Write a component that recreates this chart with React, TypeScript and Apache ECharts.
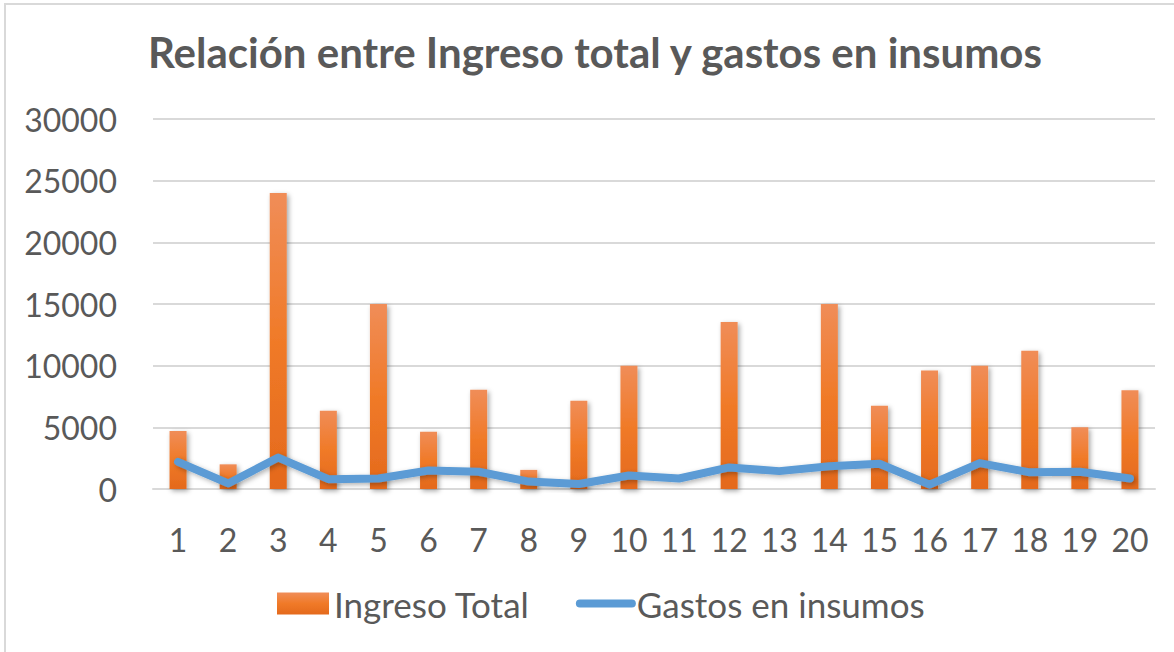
import React, { useEffect, useRef } from "react";
import * as echarts from "echarts";

const categories = ["1","2","3","4","5","6","7","8","9","10","11","12","13","14","15","16","17","18","19","20"];
const ingresoTotal = [4700, 2000, 24000, 6350, 15000, 4650, 8050, 1550, 7150, 10000, 0, 13550, 0, 15000, 6750, 9600, 10000, 11200, 5000, 8000];
const gastosInsumos = [2200, 450, 2550, 800, 850, 1500, 1400, 600, 400, 1100, 850, 1750, 1450, 1850, 2050, 350, 2100, 1350, 1400, 850];
const titleText = "Relación entre Ingreso total y gastos en insumos";
const seriesNames = ["Ingreso Total", "Gastos en insumos"];

export default function App() {
  const ref = useRef<HTMLDivElement>(null);
  useEffect(() => {
    if (!ref.current) return;
    const chart = echarts.init(ref.current, undefined, { renderer: "svg" });
    const font = "Lato, 'Open Sans', sans-serif";
    const textColor = "#595959";
    chart.setOption({
      animation: false,
      backgroundColor: "#ffffff",
      graphic: {
        elements: [
          {
            type: "polyline",
            z: 100,
            shape: { points: [[5, 652], [5, 4], [1174, 4]] },
            style: { stroke: "#d9d9d9", lineWidth: 2, fill: "none" },
            silent: true,
          },
        ],
      },
      title: {
        text: titleText,
        left: 143,
        top: 26,
        textStyle: { fontFamily: font, fontSize: 42, fontWeight: "bold", color: textColor },
      },
      legend: {
        bottom: 26,
        left: 272,
        itemWidth: 52,
        itemHeight: 22,
        itemGap: 46,
        textStyle: { fontFamily: font, fontSize: 35, color: textColor, padding: [0, 0, 0, 0] },
        data: [
          { name: seriesNames[0], icon: "rect" },
          {
            name: seriesNames[1],
            itemStyle: { opacity: 0 },
            lineStyle: { width: 8, cap: "round", color: "#5B9BD5" },
          },
        ],
      },
      grid: { left: 153, right: 19, top: 119, bottom: 163, containLabel: false },
      xAxis: {
        type: "category",
        data: categories,
        axisTick: { show: false },
        axisLine: { lineStyle: { color: "#d9d9d9", width: 2 } },
        axisLabel: { fontFamily: font, fontSize: 32, color: textColor, margin: 34 },
      },
      yAxis: {
        type: "value",
        min: 0,
        max: 30000,
        interval: 5000,
        axisLine: { show: false },
        axisTick: { show: false },
        splitLine: { lineStyle: { color: "#d9d9d9", width: 2 } },
        axisLabel: {
          fontFamily: font,
          fontSize: 32,
          color: textColor,
          margin: 36,
          formatter: (v: number) => String(v),
        },
      },
      series: [
        {
          name: seriesNames[0],
          type: "bar",
          data: ingresoTotal,
          barWidth: 17,
          itemStyle: {
            color: new echarts.graphic.LinearGradient(0, 0, 0, 1, [
              { offset: 0, color: "#F08D58" },
              { offset: 0.5, color: "#F07A28" },
              { offset: 1, color: "#E4691C" },
            ]),
            shadowBlur: 5,
            shadowColor: "rgba(0,0,0,0.35)",
            shadowOffsetX: 2,
            shadowOffsetY: 2,
          },
        },
        {
          name: seriesNames[1],
          type: "line",
          data: gastosInsumos,
          showSymbol: false,
          symbol: "none",
          color: "#5B9BD5",
          lineStyle: {
            color: "#5B9BD5",
            width: 8,
            cap: "round",
            join: "round",
            shadowBlur: 5,
            shadowColor: "rgba(0,0,0,0.3)",
            shadowOffsetX: 2,
            shadowOffsetY: 2,
          },
        },
      ],
    });
    return () => chart.dispose();
  }, []);
  return (
    <div
      style={{
        position: "fixed",
        left: 0,
        top: 0,
        width: 1174,
        height: 652,
        background: "#ffffff",
      }}
    >
      <div ref={ref} style={{ position: "absolute", left: 0, top: 0, width: 1174, height: 652 }} />
    </div>
  );
}
